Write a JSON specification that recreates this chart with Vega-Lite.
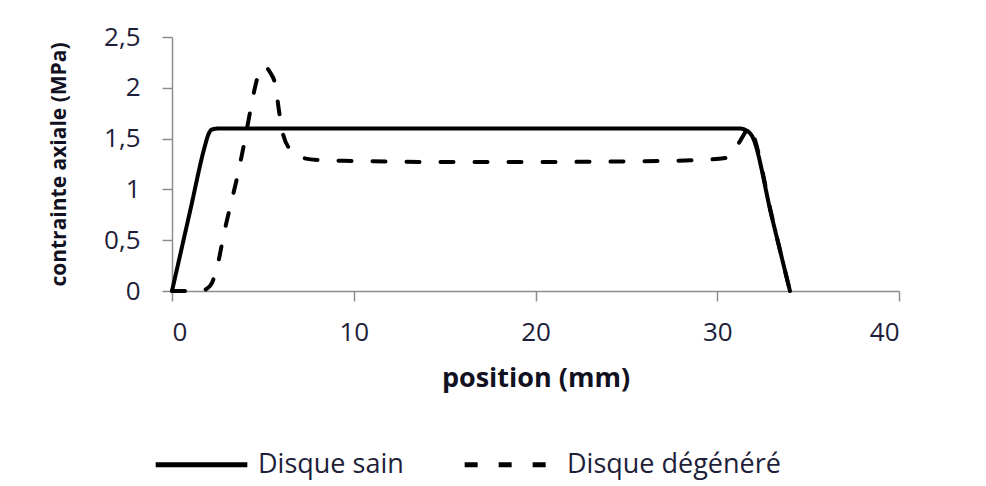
{
  "$schema": "https://vega.github.io/schema/vega-lite/v6.json",
  "width": 727,
  "height": 254,
  "autosize": {"type": "none"},
  "padding": {"left": 172, "top": 37, "right": 87, "bottom": 195},
  "background": "white",
  "config": {
    "view": {"stroke": null},
    "font": "Open Sans",
    "axis": {
      "grid": false,
      "domainColor": "#8c8c8c",
      "tickColor": "#8c8c8c",
      "domainWidth": 1.5,
      "tickWidth": 1.5,
      "tickSize": 10,
      "labelFont": "Open Sans",
      "labelFontSize": 26,
      "labelColor": "#1e1e3a",
      "titleFont": "Open Sans",
      "titleFontWeight": "bold",
      "titleColor": "#111122"
    }
  },
  "data": {
    "values": [
      {"position": 0, "contrainte": 0, "serie": "Disque sain"},
      {"position": 1.0, "contrainte": 0.79, "serie": "Disque sain"},
      {"position": 1.8, "contrainte": 1.42, "serie": "Disque sain"},
      {"position": 2.0, "contrainte": 1.54, "serie": "Disque sain"},
      {"position": 2.2, "contrainte": 1.59, "serie": "Disque sain"},
      {"position": 2.6, "contrainte": 1.6, "serie": "Disque sain"},
      {"position": 10, "contrainte": 1.6, "serie": "Disque sain"},
      {"position": 20, "contrainte": 1.6, "serie": "Disque sain"},
      {"position": 30, "contrainte": 1.6, "serie": "Disque sain"},
      {"position": 31.2, "contrainte": 1.6, "serie": "Disque sain"},
      {"position": 31.6, "contrainte": 1.58, "serie": "Disque sain"},
      {"position": 31.9, "contrainte": 1.53, "serie": "Disque sain"},
      {"position": 33.0, "contrainte": 0.73, "serie": "Disque sain"},
      {"position": 34.0, "contrainte": 0, "serie": "Disque sain"},
      {"position": 0, "contrainte": 0, "serie": "Disque dégénéré"},
      {"position": 0.9, "contrainte": 0, "serie": "Disque dégénéré"},
      {"position": 1.6, "contrainte": 0, "serie": "Disque dégénéré"},
      {"position": 1.9, "contrainte": 0.02, "serie": "Disque dégénéré"},
      {"position": 2.2, "contrainte": 0.08, "serie": "Disque dégénéré"},
      {"position": 2.5, "contrainte": 0.25, "serie": "Disque dégénéré"},
      {"position": 2.9, "contrainte": 0.6, "serie": "Disque dégénéré"},
      {"position": 3.2, "contrainte": 0.83, "serie": "Disque dégénéré"},
      {"position": 3.6, "contrainte": 1.13, "serie": "Disque dégénéré"},
      {"position": 3.9, "contrainte": 1.39, "serie": "Disque dégénéré"},
      {"position": 4.2, "contrainte": 1.67, "serie": "Disque dégénéré"},
      {"position": 4.5, "contrainte": 1.95, "serie": "Disque dégénéré"},
      {"position": 4.8, "contrainte": 2.15, "serie": "Disque dégénéré"},
      {"position": 5.1, "contrainte": 2.21, "serie": "Disque dégénéré"},
      {"position": 5.4, "contrainte": 2.15, "serie": "Disque dégénéré"},
      {"position": 5.7, "contrainte": 2.02, "serie": "Disque dégénéré"},
      {"position": 5.85, "contrainte": 1.82, "serie": "Disque dégénéré"},
      {"position": 6.05, "contrainte": 1.59, "serie": "Disque dégénéré"},
      {"position": 6.5, "contrainte": 1.39, "serie": "Disque dégénéré"},
      {"position": 7.0, "contrainte": 1.32, "serie": "Disque dégénéré"},
      {"position": 8, "contrainte": 1.29, "serie": "Disque dégénéré"},
      {"position": 10, "contrainte": 1.28, "serie": "Disque dégénéré"},
      {"position": 15, "contrainte": 1.27, "serie": "Disque dégénéré"},
      {"position": 20, "contrainte": 1.27, "serie": "Disque dégénéré"},
      {"position": 25, "contrainte": 1.275, "serie": "Disque dégénéré"},
      {"position": 29, "contrainte": 1.29, "serie": "Disque dégénéré"},
      {"position": 30.5, "contrainte": 1.31, "serie": "Disque dégénéré"},
      {"position": 30.9, "contrainte": 1.38, "serie": "Disque dégénéré"},
      {"position": 31.2, "contrainte": 1.46, "serie": "Disque dégénéré"},
      {"position": 31.5, "contrainte": 1.55, "serie": "Disque dégénéré"},
      {"position": 31.75, "contrainte": 1.62, "serie": "Disque dégénéré"},
      {"position": 31.95, "contrainte": 1.55, "serie": "Disque dégénéré"},
      {"position": 33.0, "contrainte": 0.74, "serie": "Disque dégénéré"},
      {"position": 34.0, "contrainte": 0, "serie": "Disque dégénéré"}
    ]
  },
  "mark": {"type": "line", "interpolate": "monotone", "strokeWidth": 4, "strokeCap": "round", "color": "black"},
  "encoding": {
    "x": {
      "field": "position", "type": "quantitative",
      "scale": {"domain": [0, 40], "nice": false, "zero": false},
      "axis": {"values": [0, 10, 20, 30, 40], "title": "position (mm)", "titleFontSize": 27, "labelPadding": 18, "titlePadding": 20}
    },
    "y": {
      "field": "contrainte", "type": "quantitative",
      "scale": {"domain": [0, 2.5], "nice": false},
      "axis": {"values": [0, 0.5, 1, 1.5, 2, 2.5], "labelExpr": "replace(format(datum.value, '~g'), '.', ',')", "title": "contrainte axiale (MPa)", "titleFontSize": 21, "labelPadding": 22, "titlePadding": 34}
    },
    "strokeDash": {
      "field": "serie", "type": "nominal",
      "scale": {"domain": ["Disque sain", "Disque dégénéré"], "range": [[1, 0], [13, 21]]},
      "legend": {
        "orient": "none", "direction": "horizontal", "title": null,
        "legendX": -19, "legendY": 379,
        "symbolType": "stroke", "symbolSize": 8400, "symbolStrokeWidth": 5, "symbolStrokeColor": "black",
        "labelFont": "Open Sans", "labelFontSize": 27, "labelColor": "#1e1e3a", "labelOffset": 8,
        "labelLimit": 500, "columnPadding": 50
      }
    }
  }
}
